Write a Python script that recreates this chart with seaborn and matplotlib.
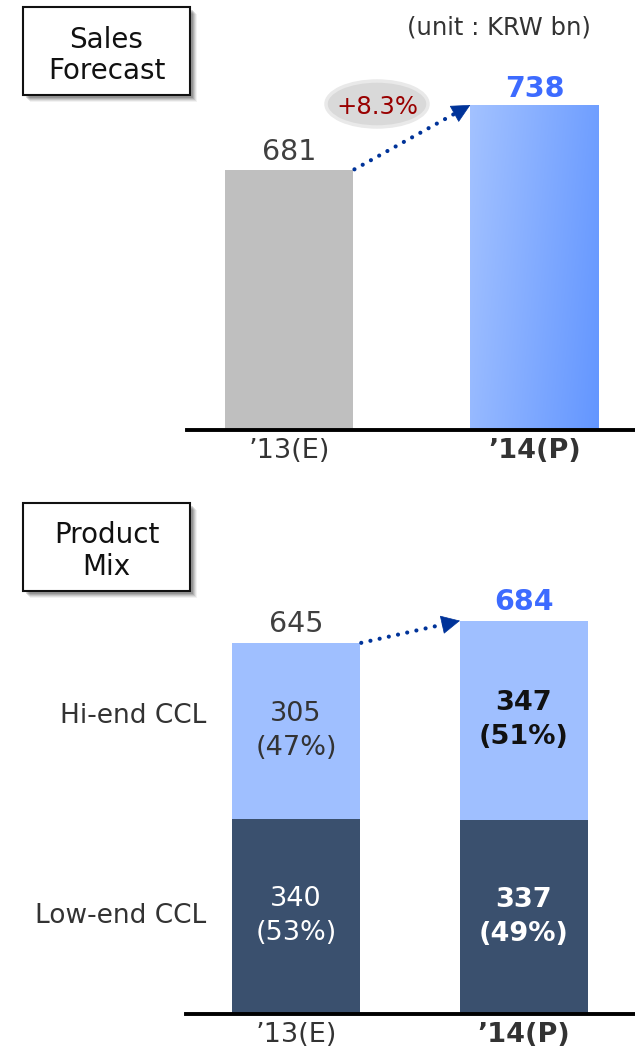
import numpy as np
import pandas as pd
import matplotlib
matplotlib.use("Agg")
import matplotlib.pyplot as plt
import seaborn as sns
from matplotlib import patches
from matplotlib.colors import LinearSegmentedColormap

# ---- data -------------------------------------------------------------
years = ["\u201913(E)", "\u201914(P)"]
sales = [681, 738]
sales_growth = "+8.3%"
segment_names = ["Hi-end CCL", "Low-end CCL"]
hi_end = [305, 347]
low_end = [340, 337]
unit_note = "(unit : KRW bn)"

# ---- style ------------------------------------------------------------
sns.set_theme(style="white")
plt.rcParams["font.family"] = ["DejaVu Sans"]

GRAY = "#BFBFBF"
LIGHT_BLUE = "#9FBFFF"
NAVY = "#3A506E"
ACCENT = "#3D6BFF"
ARROW = "#003399"
TXT = "#404040"

W, H = 635, 1054
fig = plt.figure(figsize=(W / 100, H / 100), dpi=100)
fig.patch.set_facecolor("white")


def px_rect(left, top, right, bottom):
    return [left / W, 1 - bottom / H, (right - left) / W, (bottom - top) / H]


def fx(x):
    return x / W


def fy(y):
    return 1 - y / H


def title_box(left, top, right, bottom, lines, centers):
    # soft drop shadow
    for k, a in zip([7, 6, 5, 4, 3], [0.05, 0.08, 0.10, 0.12, 0.14]):
        fig.add_artist(patches.Rectangle(
            (fx(left + k), fy(bottom + k)), (right - left) / W, (bottom - top) / H,
            transform=fig.transFigure, facecolor="#000000", alpha=a,
            edgecolor="none", zorder=1))
    fig.add_artist(patches.Rectangle(
        (fx(left), fy(bottom)), (right - left) / W, (bottom - top) / H,
        transform=fig.transFigure, facecolor="white", edgecolor="#111111",
        lw=1.5, zorder=2))
    cx = (left + right) / 2
    for line, cy in zip(lines, centers):
        fig.text(fx(cx), fy(cy), line, ha="center", va="center_baseline",
                 fontsize=20, color="#111111", zorder=3)


def style_axis(ax, bold_idx=1, fontsize=19.5, pad=5):
    sns.despine(ax=ax, left=True)
    ax.spines["bottom"].set_color("black")
    ax.spines["bottom"].set_linewidth(2.8)
    ax.set_yticks([])
    ax.set_xlabel("")
    ax.set_ylabel("")
    ax.tick_params(axis="x", length=0, pad=pad, labelsize=fontsize,
                   labelcolor="#333333")
    for i, lab in enumerate(ax.get_xticklabels()):
        if i == bold_idx:
            lab.set_fontweight("bold")
    ax.set_facecolor("none")


def growth_arrow(ax, x0, y0, x1, y1, head_px=17):
    # dotted shaft plus a solid triangular head, both in data coordinates
    p0 = ax.transData.transform((x0, y0))
    p1 = ax.transData.transform((x1, y1))
    u = (p1 - p0) / np.hypot(*(p1 - p0))
    inv = ax.transData.inverted()
    shaft_end = inv.transform(p1 - u * head_px * 0.6)
    head_base = inv.transform(p1 - u * head_px)
    ax.annotate("", xy=shaft_end, xytext=(x0, y0),
                arrowprops=dict(arrowstyle="-", color=ARROW, lw=3,
                                linestyle=(0, (0.01, 2.25)), capstyle="round",
                                shrinkA=1, shrinkB=0),
                annotation_clip=False, zorder=5)
    ax.annotate("", xy=(x1, y1), xytext=head_base,
                arrowprops=dict(arrowstyle="-|>,head_length=1.0,head_width=0.5",
                                mutation_scale=12.5, color=ARROW, lw=0.5,
                                shrinkA=0, shrinkB=0),
                annotation_clip=False, zorder=5)


# ---- Sales forecast -----------------------------------------------------
ax1 = fig.add_axes(px_rect(187, 40, 635, 430))
df_sales = pd.DataFrame({"year": years, "sales": sales})
w1 = 0.523
sns.barplot(data=df_sales, x="year", y="sales", hue="year",
            palette=[GRAY, "#80A8FF"], width=w1, saturation=1,
            errorbar=None, legend=False, linewidth=0, ax=ax1)
y_lo1, y_hi1 = 453, 795
x_lim1 = (-0.4155, 1.409)
style_axis(ax1, pad=5.5)

# diagonal gradient on the forecast bar
bar = ax1.patches[1]
bx, bw, bh = bar.get_x(), bar.get_width(), bar.get_height()
gx = np.linspace(0, 1, 200)[None, :]
gy = np.linspace(0, 1, 200)[:, None]
grad = 0.8 * gx + 0.2 * gy
cmap = LinearSegmentedColormap.from_list("fc", ["#A3C2FF", "#6396FF"])
im = ax1.imshow(grad, cmap=cmap, extent=(bx, bx + bw, y_lo1, bh),
                origin="upper", aspect="auto", zorder=bar.get_zorder() + 0.1,
                interpolation="bilinear")
im.set_clip_path(bar)
ax1.set_xlim(*x_lim1)
ax1.set_ylim(y_lo1, y_hi1)

for i, v in enumerate(sales):
    bold = i == 1
    ax1.annotate(f"{v}", xy=(i, v), xytext=(0, 5.5 if bold else 7.5),
                 textcoords="offset points", ha="center", va="baseline",
                 fontsize=20.5, fontweight="bold" if bold else "normal",
                 color=ACCENT if bold else TXT, zorder=6)

growth_arrow(ax1, w1 / 2, sales[0], 1 - w1 / 2, sales[1])

fig.add_artist(patches.Ellipse((fx(377), fy(104)), 102 / W, 46 / H,
                               transform=fig.transFigure, facecolor="#D9D9D9",
                               edgecolor="#E9E9E9", lw=2.5, zorder=4))
fig.text(fx(377), fy(104), sales_growth, ha="center", va="center_baseline",
         fontsize=17.5, color="#990000", zorder=5)

fig.text(fx(591), fy(25), unit_note, ha="right", va="center_baseline",
         fontsize=17.5, color="#333333")

title_box(23, 7, 190, 95, ["Sales", "Forecast"], [37, 68])

# ---- Product mix ----------------------------------------------------------
ax2 = fig.add_axes(px_rect(186, 560, 635, 1014))
totals = [h + l for h, l in zip(hi_end, low_end)]
df_mix = pd.DataFrame({"year": years, "total": totals, "low": low_end})
w2 = 0.561
sns.barplot(data=df_mix, x="year", y="total", color=LIGHT_BLUE, width=w2,
            saturation=1, errorbar=None, linewidth=0, ax=ax2)
sns.barplot(data=df_mix, x="year", y="low", color=NAVY, width=w2,
            saturation=1, errorbar=None, linewidth=0, ax=ax2)
ax2.set_ylim(0, 789.6)
ax2.set_xlim(-0.482, 1.487)
style_axis(ax2, pad=5.5)

for i, (hi, lo, tot) in enumerate(zip(hi_end, low_end, totals)):
    bold = i == 1
    wt = "bold" if bold else "normal"
    ax2.text(i, lo + hi / 2, f"{hi}\n({round(100 * hi / tot)}%)",
             ha="center", va="center", fontsize=19.5, fontweight=wt,
             color="#111111" if bold else "#333333", linespacing=1.4)
    ax2.text(i, lo / 2, f"{lo}\n({round(100 * lo / tot)}%)",
             ha="center", va="center", fontsize=19.5, fontweight=wt,
             color="white", linespacing=1.4)
    ax2.annotate(f"{tot}", xy=(i, tot), xytext=(0, 8),
                 textcoords="offset points", ha="center", va="baseline",
                 fontsize=20.5, fontweight=wt,
                 color=ACCENT if bold else TXT, zorder=6)

growth_arrow(ax2, w2 / 2, totals[0], 1 - w2 / 2, totals[1])

for name, y in zip(segment_names, [713, 913]):
    fig.text(fx(206), fy(y), name, ha="right", va="center_baseline",
             fontsize=19, color="#333333")

title_box(23, 503, 190, 591, ["Product", "Mix"], [532, 564])

fig.savefig("out.png", dpi=100)
